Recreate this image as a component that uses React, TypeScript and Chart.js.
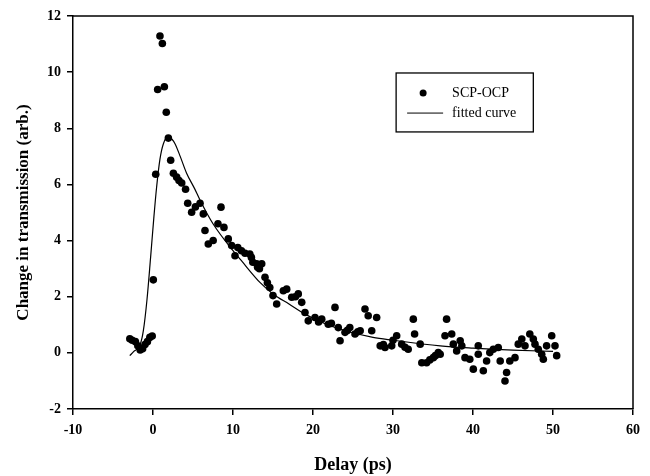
import React, { useEffect, useRef } from "react";
import { Chart, registerables } from "chart.js";

Chart.register(...registerables);

// Measured points (Delay in ps, Change in transmission in arb. units)
const delayPs = [
  -2.9, -2.6, -2.2, -1.9, -1.6, -1.3, -1.0, -0.7, -0.4, -0.1,
  0.04, 0.34, 0.58, 0.87, 1.17, 1.42, 1.66, 1.92, 2.21, 2.55,
  2.96, 3.25, 3.59, 4.07, 4.34, 4.83, 5.3, 5.88, 6.29, 6.5,
  6.91, 7.52, 8.12, 8.5, 8.87, 9.41, 9.83, 10.25, 10.6, 11.06,
  11.5, 12.1, 12.3, 12.48, 12.96, 13.08, 13.3, 13.59, 14.0, 14.3,
  14.6, 15.0, 15.46, 16.29, 16.71, 17.34, 17.8, 18.16, 18.59, 19.0,
  19.41, 20.25, 20.7, 21.09, 21.91, 22.3, 22.75, 23.16, 23.38, 24.0,
  24.3, 24.6, 25.25, 25.6, 25.9, 26.5, 26.9, 27.34, 27.96, 28.4,
  28.8, 29.0, 29.84, 30.0, 30.46, 31.09, 31.5, 31.9, 32.54, 32.7,
  33.4, 33.6, 34.2, 34.6, 35.04, 35.3, 35.66, 35.9, 36.5, 36.7,
  37.34, 37.54, 37.96, 38.4, 38.6, 39.0, 39.6, 40.04, 40.66, 40.66,
  41.29, 41.7, 42.1, 42.54, 43.16, 43.4, 44.0, 44.2, 44.6, 45.25,
  45.66, 46.1, 46.5, 47.1, 47.54, 47.75, 48.16, 48.59, 48.79, 49.2,
  49.84, 50.25, 50.46,
];
const changeArb = [
  0.5, 0.45, 0.4, 0.25, 0.1, 0.15, 0.3, 0.4, 0.55, 0.6,
  2.6, 6.36, 9.38, 11.29, 11.02, 9.48, 8.57, 7.65, 6.86, 6.4,
  6.26, 6.14, 6.05, 5.83, 5.33, 5.01, 5.2, 5.33, 4.95, 4.36,
  3.88, 4.0, 4.6, 5.19, 4.47, 4.06, 3.82, 3.46, 3.75, 3.64,
  3.55, 3.52, 3.4, 3.23, 3.17, 3.05, 3.0, 3.17, 2.69, 2.5,
  2.33, 2.04, 1.74, 2.21, 2.27, 1.98, 2.0, 2.1, 1.8, 1.44,
  1.14, 1.26, 1.1, 1.2, 1.02, 1.05, 1.62, 0.9, 0.43, 0.73,
  0.8, 0.9, 0.67, 0.75, 0.79, 1.56, 1.32, 0.79, 1.26, 0.25,
  0.3, 0.19, 0.25, 0.45, 0.61, 0.31, 0.2, 0.13, 1.2, 0.67,
  0.31, -0.35, -0.35, -0.25, -0.17, -0.1, 0.01, -0.05, 0.61, 1.2,
  0.67, 0.31, 0.07, 0.43, 0.25, -0.17, -0.23, -0.58, 0.25, -0.05,
  -0.64, -0.29, 0.01, 0.13, 0.19, -0.29, -1.0, -0.7, -0.29, -0.17,
  0.31, 0.49, 0.25, 0.67, 0.49, 0.31, 0.13, -0.05, -0.23, 0.25,
  0.61, 0.25, -0.1,
];

// Fitted curve
const fitDelay = [
  -2.9, -2.4, -1.6, -1.2, -0.75, -0.3, 0.1, 0.45, 0.87, 1.3,
  1.92, 2.4, 2.75, 3.4, 4.2, 5.2, 5.9, 7.5, 10.0, 11.0,
  13.4, 15.0, 17.0, 19.0, 21.0, 23.3, 27.5, 30.0, 35.9, 40.0,
  45.0, 50.0,
];
const fitValue = [
  -0.1, 0.05, 0.3, 0.8, 1.9, 3.4, 4.8, 5.9, 6.9, 7.45,
  7.7, 7.6, 7.45, 7.0, 6.4, 5.85, 5.43, 4.6, 3.64, 3.3,
  2.5, 2.1, 1.74, 1.38, 1.1, 0.85, 0.55, 0.45, 0.25, 0.17,
  0.1, 0.05,
];

const seriesLabels = ["SCP-OCP", "fitted curve"];
const xTitle = "Delay (ps)";
const yTitle = "Change in transmission (arb.)";

const FONT = "'Liberation Serif', 'Times New Roman', serif";

const framePlugin = {
  id: "frameBox",
  afterDraw(chart: any) {
    const { ctx, chartArea: a } = chart;
    ctx.save();
    ctx.strokeStyle = "#000";
    ctx.lineWidth = 1.5;
    ctx.beginPath();
    ctx.moveTo(a.left, a.top);
    ctx.lineTo(a.right, a.top);
    ctx.lineTo(a.right, a.bottom);
    ctx.stroke();
    ctx.restore();
  },
};

const legendPlugin = {
  id: "boxLegend",
  afterDraw(chart: any) {
    const { ctx, chartArea: a } = chart;
    const w = a.right - a.left;
    const h = a.bottom - a.top;
    const bx = a.left + 0.577 * w;
    const by = a.top + 0.145 * h;
    const bw = 0.245 * w;
    const bh = 0.15 * h;
    ctx.save();
    ctx.fillStyle = "#fff";
    ctx.fillRect(bx, by, bw, bh);
    ctx.strokeStyle = "#000";
    ctx.lineWidth = 1.3;
    ctx.strokeRect(bx, by, bw, bh);
    const row1 = by + bh * 0.34;
    const row2 = by + bh * 0.68;
    ctx.fillStyle = "#000";
    ctx.beginPath();
    ctx.arc(bx + 27, row1, 3.5, 0, Math.PI * 2);
    ctx.fill();
    ctx.lineWidth = 1;
    ctx.beginPath();
    ctx.moveTo(bx + 11, row2);
    ctx.lineTo(bx + 47, row2);
    ctx.stroke();
    ctx.font = `14px ${FONT}`;
    ctx.textBaseline = "middle";
    ctx.textAlign = "left";
    ctx.fillText(seriesLabels[0], bx + 56, row1);
    ctx.fillText(seriesLabels[1], bx + 56, row2);
    ctx.restore();
  },
};

export default function App() {
  const ref = useRef<HTMLCanvasElement | null>(null);

  useEffect(() => {
    if (!ref.current) return;
    const points = delayPs.map((x, i) => ({ x, y: changeArb[i] }));
    const fit = fitDelay.map((x, i) => ({ x, y: fitValue[i] }));
    const tickFont = { family: FONT, size: 14, weight: "bold" as const };
    const chart = new Chart(ref.current, {
      type: "scatter",
      data: {
        datasets: [
          {
            label: seriesLabels[0],
            data: points,
            pointRadius: 3.8,
            pointBackgroundColor: "#000",
            pointBorderWidth: 0,
            showLine: false,
          },
          {
            label: seriesLabels[1],
            data: fit,
            showLine: true,
            pointRadius: 0,
            borderColor: "#000",
            borderWidth: 1.2,
            cubicInterpolationMode: "monotone",
          } as any,
        ],
      },
      options: {
        animation: false,
        responsive: false,
        devicePixelRatio: 1,
        layout: { padding: { top: 16, right: 17, left: 0, bottom: 0 } },
        plugins: { legend: { display: false }, tooltip: { enabled: false } },
        scales: {
          x: {
            type: "linear",
            min: -10,
            max: 60,
            ticks: { stepSize: 10, color: "#000", font: tickFont, padding: 7, maxRotation: 0 },
            grid: { display: true, drawOnChartArea: false, drawTicks: true, tickLength: 6, color: "#000", lineWidth: 1.5 },
            border: { display: true, color: "#000", width: 1.5 },
            title: { display: true, text: xTitle, color: "#000", font: { family: FONT, size: 18, weight: "bold" }, padding: { top: 0, bottom: 0 } },
            afterFit: (s: any) => { s.height = 67; },
          },
          y: {
            type: "linear",
            min: -2,
            max: 12,
            ticks: { stepSize: 2, color: "#000", font: tickFont, padding: 6 },
            grid: { display: true, drawOnChartArea: false, drawTicks: true, tickLength: 6, color: "#000", lineWidth: 1.5 },
            border: { display: true, color: "#000", width: 1.5 },
            title: { display: true, text: yTitle, color: "#000", font: { family: FONT, size: 17, weight: "bold" }, padding: { top: 13, bottom: 0 } },
            afterFit: (s: any) => { s.width = 73; },
          },
        },
      },
      plugins: [framePlugin, legendPlugin],
    });
    return () => chart.destroy();
  }, []);

  return (
    <div style={{ position: "fixed", left: 0, top: 0, width: 650, height: 476, background: "#fff" }}>
      <canvas ref={ref} width={650} height={476} style={{ display: "block" }} />
    </div>
  );
}
